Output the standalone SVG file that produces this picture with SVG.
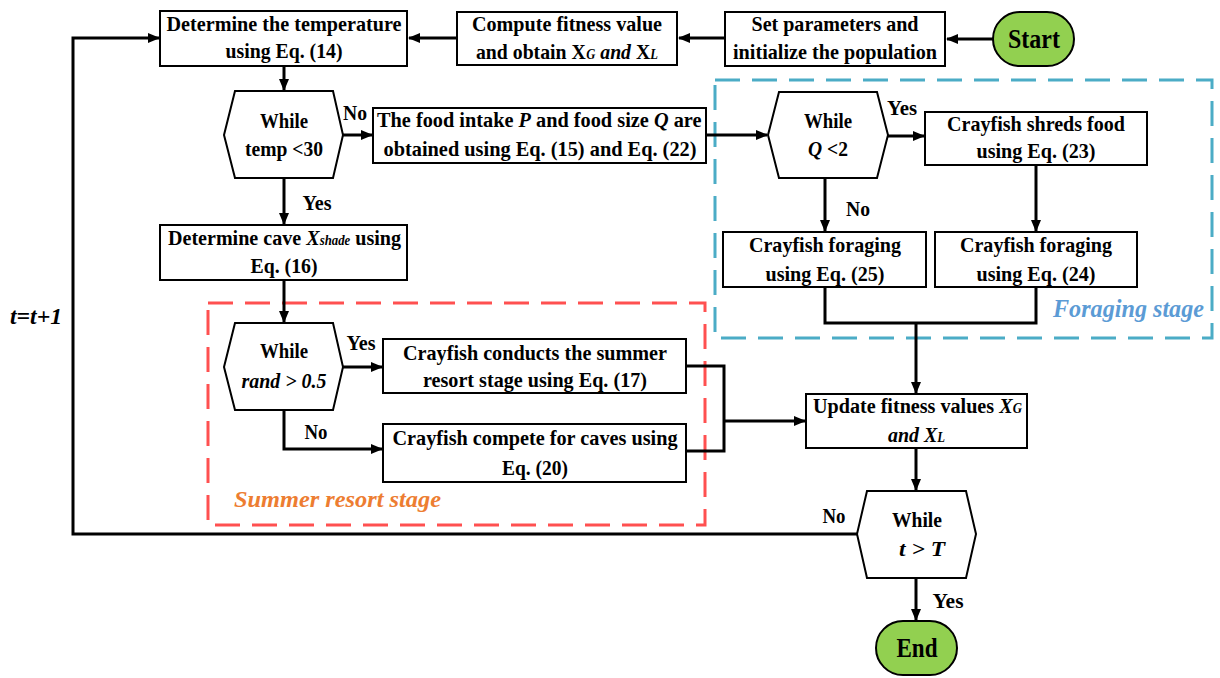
<svg xmlns="http://www.w3.org/2000/svg" width="1220" height="678" viewBox="0 0 1220 678" font-family="'Liberation Serif', 'Times New Roman', serif">
<style>
text{font-family:'Liberation Serif','Times New Roman',serif;font-weight:bold;font-size:22px;fill:#000}
.c{text-anchor:middle}
.it{font-style:italic}
.sub{font-size:14px;font-style:italic}
.box{fill:#fff;stroke:#000;stroke-width:2}
.term{fill:#92D050;stroke:#000;stroke-width:2}
.ln{fill:none;stroke:#000;stroke-width:3}
.dash-b{fill:none;stroke:#4BACC6;stroke-width:3;stroke-dasharray:25 12}
.dash-r{fill:none;stroke:#FF5050;stroke-width:3;stroke-dasharray:25 12}
</style>
<defs>
<marker id="ah" markerWidth="12" markerHeight="10" refX="11" refY="5" orient="auto" markerUnits="userSpaceOnUse">
<path d="M0,0 L12,5 L0,10 Z" fill="#000"/>
</marker>
</defs>
<rect width="1220" height="678" fill="#fff"/>

<g id="stage-foraging">
<rect class="dash-b" x="715" y="80" width="497" height="258"/>
<text class="it" x="1204" y="317" text-anchor="end" style="font-size:25px;fill:#5B9BD5" textLength="151" lengthAdjust="spacingAndGlyphs">Foraging stage</text>
</g>
<g id="stage-summer">
<rect class="dash-r" x="208" y="303" width="497" height="222"/>
<text class="it" x="234" y="507" style="font-size:24px;fill:#ED7D31" textLength="207" lengthAdjust="spacingAndGlyphs">Summer resort stage</text>
</g>

<g id="connectors">
<line class="ln" x1="993" y1="39" x2="947" y2="39" marker-end="url(#ah)"/>
<line class="ln" x1="725" y1="38" x2="679" y2="38" marker-end="url(#ah)"/>
<line class="ln" x1="457" y1="38" x2="409" y2="38" marker-end="url(#ah)"/>
<line class="ln" x1="284" y1="66" x2="284" y2="90" marker-end="url(#ah)"/>
<line class="ln" x1="343" y1="135" x2="372" y2="135" marker-end="url(#ah)"/>
<line class="ln" x1="706" y1="135" x2="767" y2="135" marker-end="url(#ah)"/>
<line class="ln" x1="888" y1="136" x2="924" y2="136" marker-end="url(#ah)"/>
<line class="ln" x1="825" y1="178" x2="825" y2="231" marker-end="url(#ah)"/>
<line class="ln" x1="1036" y1="165" x2="1036" y2="231" marker-end="url(#ah)"/>
<polyline class="ln" points="825,287 825,323 1036,323 1036,287"/>
<line class="ln" x1="916" y1="323" x2="916" y2="393" marker-end="url(#ah)"/>
<line class="ln" x1="284" y1="178" x2="284" y2="224" marker-end="url(#ah)"/>
<line class="ln" x1="284" y1="280" x2="284" y2="322" marker-end="url(#ah)"/>
<line class="ln" x1="343" y1="367" x2="382" y2="367" marker-end="url(#ah)"/>
<polyline class="ln" points="284,410 284,449 382,449" marker-end="url(#ah)"/>
<polyline class="ln" points="686,366 724,366 724,451 686,451"/>
<line class="ln" x1="724" y1="421" x2="805" y2="421" marker-end="url(#ah)"/>
<line class="ln" x1="916" y1="448" x2="916" y2="490" marker-end="url(#ah)"/>
<line class="ln" x1="916" y1="578" x2="916" y2="620" marker-end="url(#ah)"/>
<polyline class="ln" points="857,534 73,534 73,38 159,38" marker-end="url(#ah)"/>
<text x="355" y="120" class="c" textLength="24" lengthAdjust="spacingAndGlyphs">No</text>
<text x="902" y="115" class="c" textLength="30" lengthAdjust="spacingAndGlyphs">Yes</text>
<text x="858" y="216" class="c" textLength="24" lengthAdjust="spacingAndGlyphs">No</text>
<text x="317" y="210" class="c" textLength="29" lengthAdjust="spacingAndGlyphs">Yes</text>
<text x="361" y="350" class="c" textLength="29" lengthAdjust="spacingAndGlyphs">Yes</text>
<text x="316" y="439" class="c" textLength="23" lengthAdjust="spacingAndGlyphs">No</text>
<text x="834" y="523" class="c" textLength="23" lengthAdjust="spacingAndGlyphs">No</text>
<text x="948" y="608" class="c" textLength="31" lengthAdjust="spacingAndGlyphs">Yes</text>
<text x="36" y="324" class="c it" style="font-size:24px" textLength="52" lengthAdjust="spacingAndGlyphs">t=t+1</text>
</g>

<g id="start">
<rect class="term" x="993" y="12" width="81" height="54" rx="27"/>
<text x="1034" y="48" class="c" style="font-size:27px" textLength="52" lengthAdjust="spacingAndGlyphs">Start</text>
</g>
<g id="set-params">
<rect class="box" x="725" y="12" width="220" height="54"/>
<text x="835" y="31" class="c" textLength="167" lengthAdjust="spacingAndGlyphs">Set parameters and</text>
<text x="835" y="59" class="c" textLength="204" lengthAdjust="spacingAndGlyphs">initialize the population</text>
</g>
<g id="compute-fitness">
<rect class="box" x="457" y="12" width="220" height="53"/>
<text x="567" y="31" class="c" textLength="190" lengthAdjust="spacingAndGlyphs">Compute fitness value</text>
<g transform="translate(476,59) scale(0.898,1)">
<text x="0" y="0">and obtain X</text>
<text x="122.8" y="0" class="sub">G</text>
<text x="138.4" y="0" class="it">and</text>
<text x="178.1" y="0">X</text>
<text x="194" y="0" class="sub">L</text>
</g>
</g>
<g id="determine-temp">
<rect class="box" x="160" y="11" width="247" height="55"/>
<text x="284" y="31" class="c" textLength="235" lengthAdjust="spacingAndGlyphs">Determine the temperature</text>
<text x="284" y="58" class="c" textLength="117" lengthAdjust="spacingAndGlyphs">using Eq. (14)</text>
</g>
<g id="while-temp">
<polygon class="box" points="235,91 333,91 343,135 333,178 235,178 224,135"/>
<text x="284" y="128" class="c" textLength="48" lengthAdjust="spacingAndGlyphs">While</text>
<text x="284" y="156" class="c" textLength="78" lengthAdjust="spacingAndGlyphs">temp &lt;30</text>
</g>
<g id="food-intake">
<rect class="box" x="373" y="108" width="333" height="55"/>
<g transform="translate(377,127) scale(0.923,1)">
<text x="0" y="0">The food intake</text>
<text x="153.4" y="0" class="it">P</text>
<text x="172.3" y="0">and food size</text>
<text x="300" y="0" class="it">Q</text>
<text x="321.4" y="0">are</text>
</g>
<text x="540" y="156" class="c" textLength="313" lengthAdjust="spacingAndGlyphs">obtained using Eq. (15) and Eq. (22)</text>
</g>
<g id="while-q">
<polygon class="box" points="779,92 877,92 888,135 877,178 779,178 768,135"/>
<text x="828" y="128" class="c" textLength="48" lengthAdjust="spacingAndGlyphs">While</text>
<g transform="translate(808,156) scale(0.89,1)">
<text x="0" y="0" class="it">Q</text>
<text x="21.4" y="0">&lt;2</text>
</g>
</g>
<g id="shreds-food">
<rect class="box" x="925" y="112" width="222" height="53"/>
<text x="1036" y="131" class="c" textLength="178" lengthAdjust="spacingAndGlyphs">Crayfish shreds food</text>
<text x="1036" y="158" class="c" textLength="119" lengthAdjust="spacingAndGlyphs">using Eq. (23)</text>
</g>
<g id="foraging-25">
<rect class="box" x="723" y="232" width="203" height="55"/>
<text x="825" y="252" class="c" textLength="152" lengthAdjust="spacingAndGlyphs">Crayfish foraging</text>
<text x="825" y="281" class="c" textLength="119" lengthAdjust="spacingAndGlyphs">using Eq. (25)</text>
</g>
<g id="foraging-24">
<rect class="box" x="935" y="232" width="202" height="55"/>
<text x="1036" y="252" class="c" textLength="152" lengthAdjust="spacingAndGlyphs">Crayfish foraging</text>
<text x="1036" y="281" class="c" textLength="119" lengthAdjust="spacingAndGlyphs">using Eq. (24)</text>
</g>
<g id="determine-cave">
<rect class="box" x="160" y="225" width="247" height="55"/>
<g transform="translate(168,245) scale(0.913,1)">
<text x="0" y="0">Determine cave</text>
<text x="151.5" y="0" class="it">X</text>
<text x="166.2" y="0" class="sub">shade</text>
<text x="205.1" y="0">using</text>
</g>
<text x="284" y="273" class="c" textLength="67" lengthAdjust="spacingAndGlyphs">Eq. (16)</text>
</g>
<g id="while-rand">
<polygon class="box" points="235,323 333,323 343,367 333,410 235,410 224,367"/>
<text x="284" y="358" class="c" textLength="48" lengthAdjust="spacingAndGlyphs">While</text>
<text x="284" y="388" class="c it" textLength="85" lengthAdjust="spacingAndGlyphs">rand &gt; 0.5</text>
</g>
<g id="summer-resort">
<rect class="box" x="383" y="339" width="303" height="54"/>
<text x="535" y="360" class="c" textLength="264" lengthAdjust="spacingAndGlyphs">Crayfish conducts the summer</text>
<text x="535" y="387" class="c" textLength="224" lengthAdjust="spacingAndGlyphs">resort stage using Eq. (17)</text>
</g>
<g id="compete-caves">
<rect class="box" x="383" y="424" width="303" height="58"/>
<text x="535" y="445" class="c" textLength="285" lengthAdjust="spacingAndGlyphs">Crayfish compete for caves using</text>
<text x="535" y="475" class="c" textLength="66" lengthAdjust="spacingAndGlyphs">Eq. (20)</text>
</g>
<g id="update-fitness">
<rect class="box" x="806" y="394" width="221" height="54"/>
<g transform="translate(813,413) scale(0.915,1)">
<text x="0" y="0">Update fitness values</text>
<text x="203.5" y="0" class="it">X</text>
<text x="218.2" y="0" class="sub">G</text>
</g>
<g transform="translate(888,442) scale(0.905,1)">
<text x="0" y="0" class="it">and X</text>
<text x="54.4" y="0" class="sub">L</text>
</g>
</g>
<g id="while-t">
<polygon class="box" points="867,491 966,491 976,534 966,578 867,578 857,534"/>
<text x="917" y="527" class="c" textLength="50" lengthAdjust="spacingAndGlyphs">While</text>
<text x="922" y="556" class="c it" textLength="46" lengthAdjust="spacingAndGlyphs">t &gt; T</text>
</g>
<g id="end">
<rect class="term" x="876" y="621" width="81" height="54" rx="27"/>
<text x="917" y="657" class="c" style="font-size:27px" textLength="41" lengthAdjust="spacingAndGlyphs">End</text>
</g>
</svg>
